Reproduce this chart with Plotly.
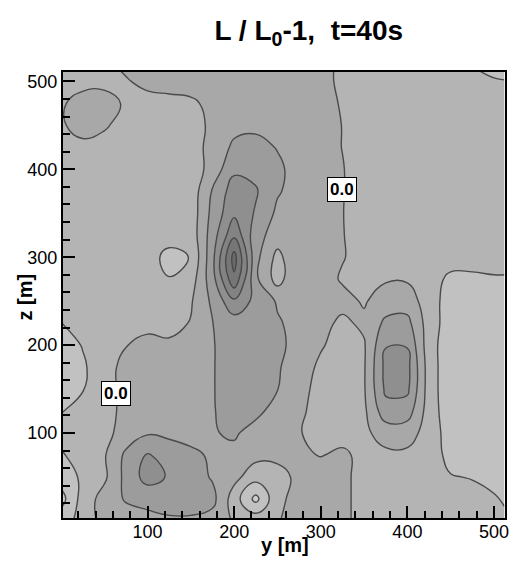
import plotly.graph_objects as go

# Grid positions (m): horizontal y and vertical z
y_m = [0, 25, 50, 75, 100, 125, 150, 175, 200, 225, 250, 275, 300, 325, 350, 375, 400, 425, 450, 475, 500, 512]
z_m = [0, 25, 50, 75, 100, 125, 150, 175, 200, 225, 250, 275, 300, 325, 350, 375, 400, 425, 450, 475, 500, 512]

# L/L0 - 1 at t = 40 s, one row per z level (columns follow y_m)
row_z000 = [-0.14, -0.07, 0.04, 0.05, 0.07, 0.08, 0.08, 0.06, -0.01, -0.03, -0.005, 0.03, 0.03, 0.02, -0.03, -0.04, -0.04, -0.05, -0.05, -0.06, -0.08, -0.09]
row_z025 = [-0.24, -0.06, 0.04, 0.11, 0.13, 0.16, 0.16, 0.13, -0.05, -0.23, -0.02, 0.03, 0.03, 0.02, -0.03, -0.04, -0.04, -0.05, -0.06, -0.07, -0.095, -0.105]
row_z050 = [-0.15, -0.085, -0.02, 0.13, 0.24, 0.19, 0.15, 0.09, 0.03, -0.06, -0.03, 0.02, 0.03, 0.02, -0.03, -0.05, -0.05, -0.06, -0.095, -0.105, -0.115, -0.12]
row_z075 = [-0.11, -0.06, -0.01, 0.12, 0.21, 0.15, 0.13, 0.08, 0.08, 0.03, 0.02, 0.03, -0.005, 0.02, -0.03, -0.02, -0.02, -0.05, -0.13, -0.14, -0.14, -0.14]
row_z100 = [-0.07, -0.05, -0.03, 0.04, 0.09, 0.08, 0.05, 0.095, 0.11, 0.07, 0.04, 0.005, -0.03, -0.04, -0.02, 0.04, 0.04, -0.04, -0.15, -0.15, -0.14, -0.14]
row_z125 = [-0.105, -0.07, -0.04, 0.03, 0.06, 0.06, 0.05, 0.095, 0.13, 0.12, 0.07, 0.02, -0.04, -0.06, -0.02, 0.16, 0.15, -0.05, -0.16, -0.16, -0.15, -0.15]
row_z150 = [-0.17, -0.105, -0.04, 0.03, 0.05, 0.05, 0.05, 0.095, 0.14, 0.13, 0.102, 0.04, -0.04, -0.06, -0.01, 0.22, 0.22, -0.05, -0.17, -0.16, -0.15, -0.15]
row_z175 = [-0.18, -0.115, -0.04, 0.03, 0.05, 0.05, 0.05, 0.095, 0.14, 0.14, 0.11, 0.05, -0.02, -0.05, -0.01, 0.23, 0.23, -0.05, -0.17, -0.16, -0.15, -0.15]
row_z200 = [-0.15, -0.095, -0.04, -0.003, 0.02, 0.015, 0.05, 0.095, 0.14, 0.14, 0.12, 0.07, 0.01, -0.04, -0.01, 0.195, 0.195, -0.06, -0.16, -0.15, -0.14, -0.14]
row_z225 = [-0.102, -0.07, -0.06, -0.04, -0.02, -0.03, 0.005, 0.098, 0.15, 0.14, 0.11, 0.07, 0.03, -0.02, 0.02, 0.12, 0.13, -0.05, -0.15, -0.14, -0.14, -0.14]
row_z250 = [-0.06, -0.06, -0.06, -0.06, -0.06, -0.06, -0.01, 0.12, 0.28, 0.17, 0.09, 0.07, 0.05, 0.03, -0.01, 0.05, 0.05, -0.05, -0.15, -0.14, -0.14, -0.14]
row_z275 = [-0.05, -0.05, -0.05, -0.06, -0.07, -0.096, -0.05, 0.16, 0.48, 0.12, -0.04, 0.095, 0.04, -0.01, -0.02, -0.01, -0.01, -0.08, -0.11, -0.11, -0.105, -0.105]
row_z300 = [-0.05, -0.05, -0.05, -0.05, -0.06, -0.13, -0.096, 0.17, 0.54, 0.13, -0.03, 0.09, 0.04, 0.005, -0.03, -0.04, -0.04, -0.07, -0.08, -0.08, -0.08, -0.08]
row_z325 = [-0.05, -0.05, -0.05, -0.05, -0.05, -0.06, -0.06, 0.15, 0.38, 0.14, 0.05, 0.05, 0.04, 0.005, -0.05, -0.05, -0.06, -0.06, -0.07, -0.07, -0.07, -0.07]
row_z350 = [-0.05, -0.05, -0.05, -0.05, -0.05, -0.05, -0.06, 0.13, 0.28, 0.19, 0.08, 0.05, 0.04, 0.003, -0.05, -0.05, -0.06, -0.06, -0.06, -0.07, -0.07, -0.07]
row_z375 = [-0.05, -0.05, -0.05, -0.05, -0.05, -0.05, -0.06, 0.11, 0.25, 0.21, 0.11, 0.06, 0.04, 0.005, -0.05, -0.05, -0.06, -0.06, -0.06, -0.06, -0.06, -0.06]
row_z400 = [-0.05, -0.05, -0.05, -0.05, -0.06, -0.06, -0.06, 0.04, 0.18, 0.17, 0.12, 0.06, 0.04, 0.005, -0.05, -0.06, -0.06, -0.06, -0.06, -0.06, -0.06, -0.06]
row_z425 = [-0.04, -0.02, -0.03, -0.05, -0.06, -0.06, -0.04, 0.03, 0.12, 0.13, 0.095, 0.06, 0.04, -0.002, -0.05, -0.06, -0.06, -0.06, -0.06, -0.06, -0.07, -0.07]
row_z450 = [-0.01, 0.03, 0.01, -0.03, -0.05, -0.05, -0.04, 0.02, 0.07, 0.08, 0.06, 0.05, 0.04, -0.002, -0.05, -0.06, -0.06, -0.06, -0.07, -0.07, -0.07, -0.08]
row_z475 = [-0.01, 0.03, 0.03, -0.01, -0.04, -0.03, -0.02, 0.03, 0.05, 0.06, 0.05, 0.05, 0.04, -0.01, -0.05, -0.06, -0.06, -0.07, -0.07, -0.07, -0.08, -0.08]
row_z500 = [-0.05, -0.025, -0.02, -0.01, 0.03, 0.04, 0.05, 0.05, 0.05, 0.05, 0.05, 0.05, 0.03, -0.02, -0.05, -0.06, -0.06, -0.07, -0.07, -0.08, -0.09, -0.095]
row_z512 = [-0.05, -0.05, -0.03, 0.01, 0.04, 0.05, 0.05, 0.05, 0.05, 0.05, 0.05, 0.05, 0.03, -0.02, -0.05, -0.06, -0.06, -0.07, -0.08, -0.09, -0.12, -0.13]

field = [row_z000, row_z025, row_z050, row_z075, row_z100, row_z125, row_z150, row_z175,
         row_z200, row_z225, row_z250, row_z275, row_z300, row_z325, row_z350, row_z375,
         row_z400, row_z425, row_z450, row_z475, row_z500, row_z512]

# Contour levels and the gray used for each band (lowest band first)
level_start, level_end, level_step = -0.2, 0.5, 0.1
band_grays = ["#cdcdcd", "#c1c1c1", "#b4b4b4", "#a8a8a8", "#9c9c9c",
              "#8f8f8f", "#838383", "#767676", "#6a6a6a"]

# Labelled zero isolines
zero_label_y = [64, 325]
zero_label_z = [145, 377]
zero_label_text = ["0.0", "0.0"]

y_range = [2.4, 512.7]
z_range = [3.3, 510.7]

n = len(band_grays) - 1
colorscale = [[i / n, c] for i, c in enumerate(band_grays)]

fig = go.Figure()
fig.add_trace(go.Contour(
    x=y_m, y=z_m, z=field,
    contours=dict(start=level_start, end=level_end, size=level_step, coloring="fill"),
    colorscale=colorscale,
    showscale=False,
    line=dict(color="#4a4a4a", width=1.4, smoothing=1.3),
    hoverinfo="skip",
))

font_family = "Liberation Sans, Arial, sans-serif"

for ty, tz, tt in zip(zero_label_y, zero_label_z, zero_label_text):
    fig.add_annotation(x=ty, y=tz, xref="x", yref="y", text=f"<b>{tt}</b>",
                       showarrow=False, bgcolor="white", bordercolor="black",
                       borderwidth=1, borderpad=2,
                       font=dict(family=font_family, size=17, color="black"))

fig.add_annotation(x=-0.085, y=0.4955, xref="paper", yref="paper", text="<b>z [m]</b>",
                   textangle=-90, showarrow=False, xanchor="center", yanchor="middle",
                   font=dict(family=font_family, size=20, color="black"))
fig.add_annotation(x=0.502, y=-0.0605, xref="paper", yref="paper", text="<b>y [m]</b>",
                   showarrow=False, xanchor="center", yanchor="middle",
                   font=dict(family=font_family, size=20, color="black"))

axis_common = dict(
    showline=True, linewidth=2, linecolor="black", mirror=True,
    showgrid=False, zeroline=False,
    ticks="inside", ticklen=12, tickwidth=2, tickcolor="black",
    tick0=0, dtick=100,
    minor=dict(ticks="inside", ticklen=7, tickwidth=1.5, tickcolor="black", dtick=20, tick0=0, showgrid=False),
    tickfont=dict(family=font_family, size=18, color="black"),
)

fig.update_layout(
    width=518, height=566,
    margin=dict(l=63, r=9, t=72, b=48),
    paper_bgcolor="white", plot_bgcolor="white",
    title=dict(text="<b>L / L<sub>0</sub>-1,\u00a0 t=40s</b>", x=0.556, xref="paper",
               xanchor="center", y=0.947, yanchor="middle",
               font=dict(family=font_family, size=28, color="black")),
    xaxis=dict(range=y_range, ticklabelstandoff=-4, **axis_common),
    yaxis=dict(range=z_range, **axis_common),
    showlegend=False,
)

fig.write_html("out.html")
